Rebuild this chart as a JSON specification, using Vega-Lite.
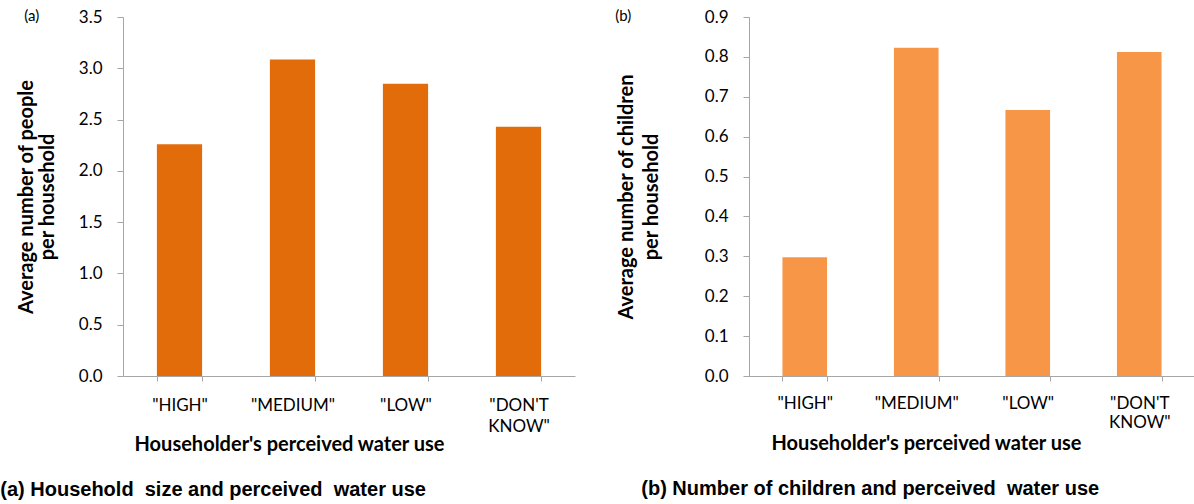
{
  "$schema": "https://vega.github.io/schema/vega-lite/v6.json",
  "padding": {"left": 0, "top": 8, "right": 0, "bottom": 0},
  "background": "white",
  "config": {
    "view": {"stroke": null},
    "font": "Lato",
    "axis": {
      "domainColor": "#A6A6A6",
      "tickColor": "#A6A6A6",
      "labelColor": "#000000",
      "titleColor": "#000000",
      "labelFont": "Lato",
      "titleFont": "Lato",
      "labelFontSize": 17,
      "titleFontSize": 20,
      "titleFontWeight": "bold",
      "grid": false
    }
  },
  "spacing": 40,
  "hconcat": [
    {
      "title": {"text": "(a) Household\u00a0 size and perceived\u00a0 water use", "orient": "bottom", "anchor": "start", "frame": "bounds", "font": "Liberation Sans", "fontSize": 20, "fontWeight": "bold", "color": "#000000", "offset": 26, "dx": -16},
      "vconcat": [
        {
          "width": 452,
          "height": 359,
          "title": {"text": "(a)", "orient": "top", "anchor": "start", "frame": "bounds", "font": "Lato", "fontSize": 15, "fontWeight": "normal", "color": "#000000", "offset": -16, "dx": 8},
          "data": {"values": [
            {"use": "\"HIGH\"", "value": 2.26},
            {"use": "\"MEDIUM\"", "value": 3.085},
            {"use": "\"LOW\"", "value": 2.85},
            {"use": "\"DON'T KNOW\"", "value": 2.43}
          ]},
          "mark": {"type": "bar", "color": "#E36C0A"},
          "encoding": {
            "x": {
              "field": "use", "type": "nominal", "sort": null,
              "scale": {"paddingInner": 0.6, "paddingOuter": 0.3},
              "axis": {
                "title": "Householder's perceived water use",
                "labelAngle": 0, "tickBand": "extent", "tickSize": 5,
                "labelPadding": 16, "labelLineHeight": 21,
                "labelExpr": "split(datum.label, ' ')",
                "titleX": 166, "titleY": 68, "titleBaseline": "middle", "titleAlign": "center"
              }
            },
            "y": {
              "field": "value", "type": "quantitative",
              "scale": {"domain": [0, 3.5]},
              "axis": {
                "title": ["Average number of people", "per household"],
                "values": [0, 0.5, 1, 1.5, 2, 2.5, 3, 3.5],
                "format": ".1f", "tickSize": 6, "labelPadding": 15,
                "titlePadding": 21, "titleLineHeight": 21
              }
            }
          }
        }
      ]
    },
    {
      "title": {"text": "(b) Number of children and perceived\u00a0 water use", "orient": "bottom", "anchor": "start", "frame": "bounds", "font": "Liberation Sans", "fontSize": 20, "fontWeight": "bold", "color": "#000000", "offset": 26, "dx": 26},
      "vconcat": [
        {
          "width": 446,
          "height": 359,
          "title": {"text": "(b)", "orient": "top", "anchor": "start", "frame": "bounds", "font": "Lato", "fontSize": 15, "fontWeight": "normal", "color": "#000000", "offset": -16, "dx": -1},
          "data": {"values": [
            {"use": "\"HIGH\"", "value": 0.298},
            {"use": "\"MEDIUM\"", "value": 0.823},
            {"use": "\"LOW\"", "value": 0.667},
            {"use": "\"DON'T KNOW\"", "value": 0.812}
          ]},
          "mark": {"type": "bar", "color": "#F79646"},
          "encoding": {
            "x": {
              "field": "use", "type": "nominal", "sort": null,
              "scale": {"paddingInner": 0.6, "paddingOuter": 0.3},
              "axis": {
                "title": "Householder's perceived water use",
                "labelAngle": 0, "tickBand": "extent", "tickSize": 5,
                "labelPadding": 14, "labelLineHeight": 19,
                "labelExpr": "split(datum.label, ' ')",
                "titleX": 177, "titleY": 67, "titleBaseline": "middle", "titleAlign": "center"
              }
            },
            "y": {
              "field": "value", "type": "quantitative",
              "scale": {"domain": [0, 0.9]},
              "axis": {
                "title": ["Average number of children", "per household"],
                "values": [0, 0.1, 0.2, 0.3, 0.4, 0.5, 0.6, 0.7, 0.8, 0.9],
                "format": ".1f", "tickSize": 6, "labelPadding": 15,
                "titlePadding": 43, "titleLineHeight": 25
              }
            }
          }
        }
      ]
    }
  ]
}
